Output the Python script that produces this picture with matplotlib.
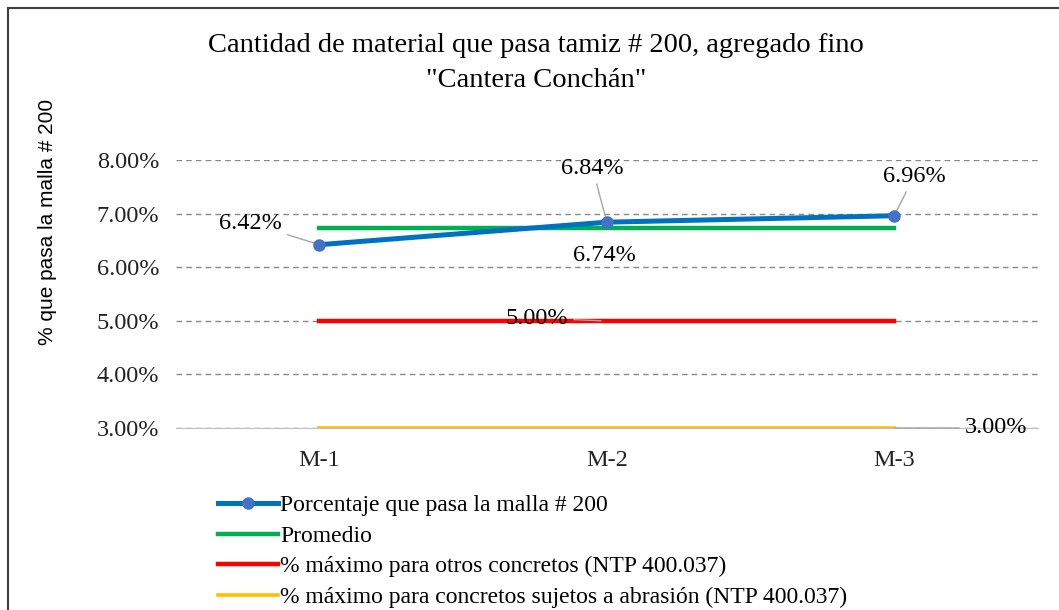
import matplotlib.pyplot as plt
from matplotlib.patches import Rectangle
from matplotlib.ticker import PercentFormatter

# data
muestras = ['M-1', 'M-2', 'M-3']
porcentaje = [6.42, 6.84, 6.96]
promedio = [6.74, 6.74, 6.74]
max_otros = [5.00, 5.00, 5.00]
max_abrasion = [3.00, 3.00, 3.00]
y_ticks = [3, 4, 5, 6, 7, 8]

plt.rcParams['font.family'] = ['Liberation Serif', 'DejaVu Serif']

fig = plt.figure(figsize=(10.59, 6.10), dpi=100)
ax = fig.add_axes([0.166, 0.2984, 0.814, 0.4393])

x = range(len(muestras))
ax.plot(x, max_abrasion, color='#FFC000', lw=2.6, zorder=3,
        label='% máximo para concretos sujetos a abrasión (NTP 400.037)')
ax.plot(x, max_otros, color='#FF0000', lw=3.2, zorder=3,
        label='% máximo para otros concretos (NTP 400.037)')
ax.plot(x, promedio, color='#00B050', lw=3.2, zorder=3, label='Promedio')
ax.plot(x, porcentaje, color='#0070C0', lw=3.6, marker='o', ms=8,
        mfc='#4472C4', mec='#4472C4', zorder=4,
        label='Porcentaje que pasa la malla # 200')

ax.set_xlim(-0.5, 2.5)
ax.set_ylim(3, 8)
ax.set_yticks(y_ticks)
ax.yaxis.set_major_formatter(PercentFormatter(decimals=2))
ax.set_xticks(list(x))
ax.set_xticklabels(muestras)
ax.tick_params(length=0, labelsize=17.5, colors='#222222')
ax.tick_params(axis='y', pad=12)
ax.tick_params(axis='x', pad=16)
ax.grid(axis='y', color='#888888', ls=(0, (4, 3)), lw=1)
for side in ['top', 'right', 'left']:
    ax.spines[side].set_visible(False)
ax.spines['bottom'].set_color('#BFBFBF')

ax.set_ylabel('% que pasa la malla # 200', fontsize=15,
              family=['Liberation Sans', 'DejaVu Sans'])
ax.yaxis.set_label_coords(-0.138, 0.77)

fig.text(0.506, 0.925, 'Cantidad de material que pasa tamiz # 200, agregado fino',
         ha='center', va='center', fontsize=20.5)
fig.text(0.506, 0.868, '"Cantera Conchán"', ha='center', va='center', fontsize=20.5)

# data labels with leader lines
fs = 17.5
lead = dict(arrowstyle='-', color='#A6A6A6', lw=1, shrinkA=2, shrinkB=4)
ax.annotate(f'{porcentaje[0]:.2f}%', (0, porcentaje[0]), xytext=(-0.24, 6.82),
            fontsize=fs, ha='center', va='center', arrowprops=lead)
ax.annotate(f'{porcentaje[1]:.2f}%', (1, porcentaje[1]), xytext=(0.95, 7.85),
            fontsize=fs, ha='center', va='center', arrowprops=lead)
ax.annotate(f'{porcentaje[2]:.2f}%', (2, porcentaje[2]), xytext=(2.07, 7.7),
            fontsize=fs, ha='center', va='center', arrowprops=lead)
ax.text(0.993, 6.22, f'{promedio[1]:.2f}%', fontsize=fs, ha='center', va='center')
ax.annotate(f'{max_otros[1]:.2f}%', (0.98, max_otros[1]), xytext=(0.757, 5.05),
            fontsize=fs, ha='center', va='center', zorder=5,
            arrowprops=dict(arrowstyle='-', color='#A6A6A6', lw=1,
                            shrinkA=2, shrinkB=0))
ax.annotate(f'{max_abrasion[2]:.2f}%', (2, max_abrasion[2]), xytext=(2.354, 3.0),
            fontsize=fs, ha='center', va='center', annotation_clip=False,
            arrowprops=dict(arrowstyle='-', color='#A6A6A6', lw=1,
                            shrinkA=2, shrinkB=0))

handles, labels = ax.get_legend_handles_labels()
leg = ax.legend(handles[::-1], labels[::-1], loc='upper left',
                bbox_to_anchor=(0.0487, -0.25), frameon=False, fontsize=17,
                handlelength=2.55, handletextpad=0.08, labelspacing=0.38,
                borderaxespad=0, borderpad=0)

# outer border of the chart area
fig.patches.append(Rectangle((8 / 1059, -0.1), 1.2, 1 - 8 / 610 + 0.1,
                             transform=fig.transFigure, fill=False,
                             ec='#404040', lw=1.5))

fig.savefig('out.png', dpi=100)
